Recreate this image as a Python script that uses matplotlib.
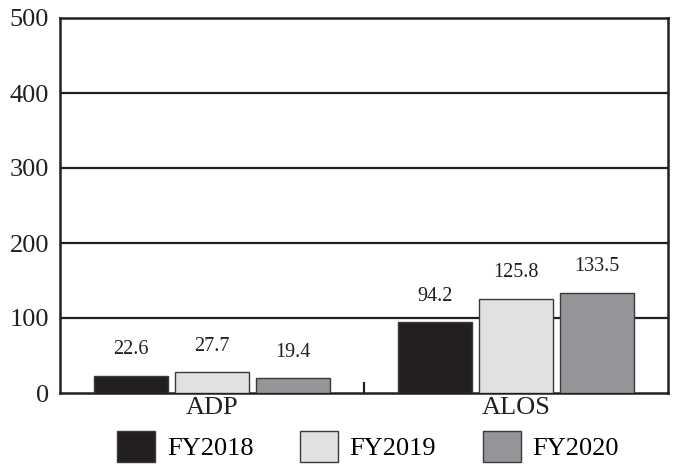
import matplotlib.pyplot as plt
import numpy as np
from matplotlib.patches import Patch

plt.rcParams['font.family'] = ['Liberation Serif', 'DejaVu Serif']

categories = ['ADP', 'ALOS']
series = ['FY2018', 'FY2019', 'FY2020']
fy2018 = [22.6, 94.2]
fy2019 = [27.7, 125.8]
fy2020 = [19.4, 133.5]
colors = ['#231f20', '#e0e1e3', '#939598']

fig = plt.figure(figsize=(6.75, 4.68), dpi=100)
ax = fig.add_axes([60/675, 1-393/468, 608/675, 375/468])

x = np.arange(len(categories))
step = 0.266
width = 0.243
for i, (vals, col) in enumerate(zip([fy2018, fy2019, fy2020], colors)):
    bars = ax.bar(x + (i-1)*step, vals, width, color=col, edgecolor='#3a3a3a',
                  linewidth=1.0, zorder=3)
    for b, v in zip(bars, vals):
        ax.annotate(f'{v}', (b.get_x() + b.get_width()/2, v), xytext=(0, 12),
                    textcoords='offset points', ha='center', va='bottom', fontsize=14.5,
                    color='#231f20')

ax.set_xlim(-0.5, 1.5)
ax.set_ylim(0, 500)
ax.set_yticks(np.arange(0, 501, 100))
for y in range(100, 500, 100):
    ax.axhline(y, color='#231f20', linewidth=1.6, zorder=1)
ax.set_xticks(x)
ax.set_xticklabels(categories, fontsize=19)
ax.set_xticks([0.5], minor=True)
ax.tick_params(axis='x', which='major', length=0, pad=3, colors='#231f20')
ax.tick_params(axis='x', which='minor', direction='in', length=8, width=1.6, color='#231f20')
ax.tick_params(axis='y', length=0, labelsize=19, pad=8, colors='#231f20')
for s in ax.spines.values():
    s.set_linewidth(1.8)
    s.set_color('#231f20')

handles = [Patch(facecolor=c, edgecolor='#3a3a3a', linewidth=1.0) for c in colors]
fig.legend(handles, series, loc='upper center', bbox_to_anchor=(0.545, 1-431/468),
           ncol=3, frameon=False, fontsize=19, handlelength=1.45, handleheight=1.45,
           handletextpad=0.45, columnspacing=1.75, borderpad=0, borderaxespad=0)

fig.savefig('out.png', dpi=100)
